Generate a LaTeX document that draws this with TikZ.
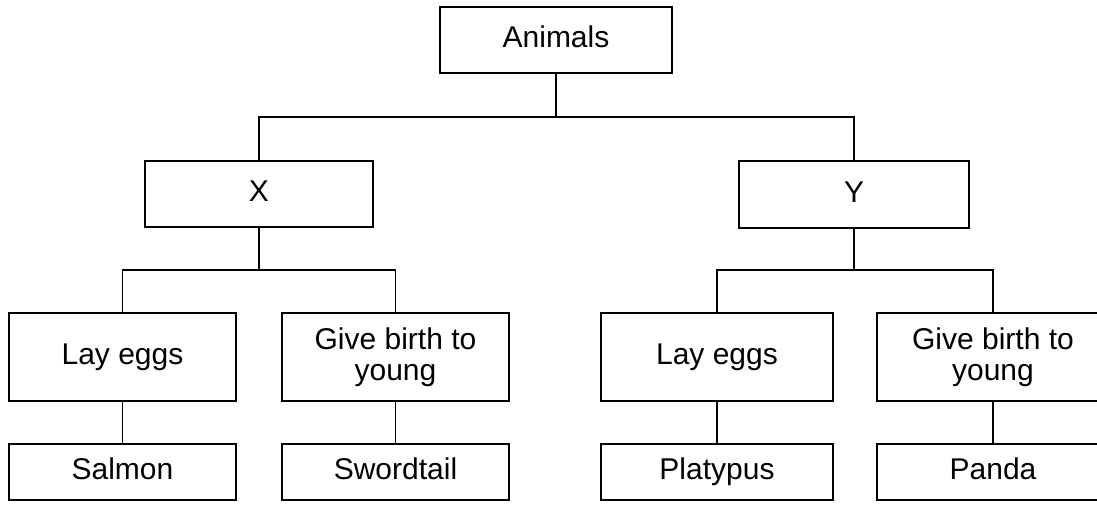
\documentclass[tikz,border=0pt]{standalone}
\usepackage{fontspec}
\setmainfont{Liberation Sans}
\begin{document}
\begin{tikzpicture}[x=0.75pt,y=-0.75pt,
  box/.style={draw=black,line width=1.5pt,rectangle,inner sep=0pt,align=center,
    font=\fontsize{22.5pt}{23pt}\selectfont},
  oneline/.style={box,text height=16.2pt,text depth=4.8pt},
  conn/.style={draw=black,line width=1.3pt}]
\clip (0,0) rectangle (1097,509);
\useasboundingbox (0,0) rectangle (1097,509);
\fill[white] (0,0) rectangle (1097,509);
\node[oneline,minimum width=232*0.75pt,minimum height=66*0.75pt] (A) at (556,40) {Animals};
\node[oneline,minimum width=228*0.75pt,minimum height=66*0.75pt] (X) at (259,194) {X};
\node[oneline,minimum width=230*0.75pt,minimum height=67*0.75pt] (Y) at (854,194.5) {Y};
\node[oneline,minimum width=227*0.75pt,minimum height=88*0.75pt] (LE1) at (122.5,357) {Lay eggs};
\node[box,minimum width=227*0.75pt,minimum height=88*0.75pt] (GB1) at (395.5,357) {Give birth to\\young};
\node[oneline,minimum width=232*0.75pt,minimum height=88*0.75pt] (LE2) at (717,357) {Lay eggs};
\node[box,minimum width=232*0.75pt,minimum height=88*0.75pt] (GB2) at (993,357) {Give birth to\\young};
\node[oneline,minimum width=227*0.75pt,minimum height=56*0.75pt] (S1) at (122.5,472) {Salmon};
\node[oneline,minimum width=227*0.75pt,minimum height=56*0.75pt] (S2) at (395.5,472) {Swordtail};
\node[oneline,minimum width=232*0.75pt,minimum height=56*0.75pt] (P1) at (717,472) {Platypus};
\node[oneline,minimum width=232*0.75pt,minimum height=56*0.75pt] (P2) at (993,472) {Panda};
\coordinate (bus1) at (0,117);
\coordinate (bus2) at (0,270);
% top level
\draw[conn] (A.south) -- (A.south |- bus1);
\draw[conn] (X.north) |- (Y.north |- bus1) -- (Y.north);
% X branch
\draw[conn] (X.south) -- (X.south |- bus2);
\draw[conn] (LE1.north) |- (GB1.north |- bus2) -- (GB1.north);
% Y branch
\draw[conn] (Y.south) -- (Y.south |- bus2);
\draw[conn] (LE2.north) |- (GB2.north |- bus2) -- (GB2.north);
% leaves
\draw[conn] (LE1.south) -- (S1.north);
\draw[conn] (GB1.south) -- (S2.north);
\draw[conn] (LE2.south) -- (P1.north);
\draw[conn] (GB2.south) -- (P2.north);
\end{tikzpicture}
\end{document}
